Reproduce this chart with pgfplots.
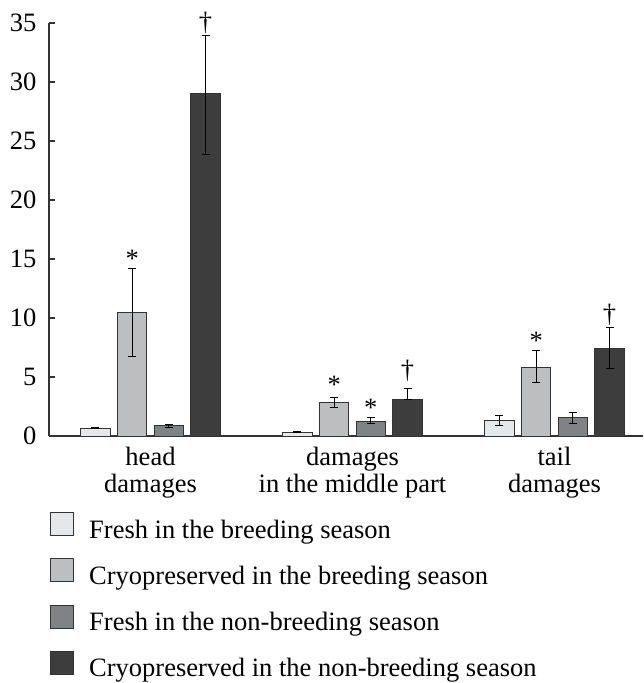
\documentclass[border=0pt]{standalone}
\usepackage{pgfplots}
\usepackage{pgfplotstable}
\pgfplotsset{compat=1.18}
\usepackage{fontspec}
\setmainfont{Liberation Serif}
\definecolor{cA}{HTML}{E6E7E8}
\definecolor{cB}{HTML}{BCBEC0}
\definecolor{cC}{HTML}{808285}
\definecolor{cD}{HTML}{3D3D3D}
\definecolor{edge}{HTML}{333333}
\pgfplotstableread{
x y ep em
0 0.65 0.05 0.05
1 0.30 0.04 0.04
2 1.33 0.39 0.40
}\dataA
\pgfplotstableread{
x y ep em
0 10.45 3.75 3.70
1 2.85 0.42 0.42
2 5.82 1.43 1.32
}\dataB
\pgfplotstableread{
x y ep em
0 0.85 0.12 0.12
1 1.27 0.31 0.25
2 1.55 0.43 0.48
}\dataC
\pgfplotstableread{
x y ep em
0 29.00 4.90 5.15
1 3.13 0.87 0.00
2 7.42 1.75 1.69
}\dataD
\newcommand{\fs}{\fontsize{26.5}{27}\selectfont}
\begin{document}
\begin{tikzpicture}
\begin{axis}[
  name=ax,
  scale only axis,
  clip=false,
  width=594pt, height=413pt,
  xmin=-0.5025, xmax=2.438,
  ymin=0, ymax=35,
  axis lines=left,
  axis line style={-, draw=edge, line width=1.1pt},
  ybar, bar width=0.146,
  xtick={0,1,2},
  xticklabels={{head\\damages},{damages\\in the middle part},{tail\\damages}},
  xticklabel style={align=center, font=\fs, yshift=-8pt},
  major x tick style={draw=none},
  ytick={0,5,...,35},
  yticklabel style={font=\fs, xshift=-9pt},
  /pgf/number format/assume math mode=true,
  tick align=inside,
  major tick length=6pt,
  major y tick style={draw=edge, line width=1.1pt},
  legend style={at={(axis description cs:0,0)}, anchor=north west,
    xshift=1pt, yshift=-76pt, draw=none, fill=none, inner sep=0pt,
    row sep=18.8pt, column sep=15pt, font=\fs,
    nodes={inner sep=0pt}},
  legend cell align=left,
  legend image code/.code={\draw[#1, draw=edge, line width=1pt] (0pt,-6pt) rectangle (23pt,17pt);},
  error bars/y dir=both, error bars/y explicit,
  error bars/error bar style={line width=1pt, black},
  error bars/error mark options={rotate=90, mark size=4pt, line width=1pt, black},
]
\addplot[fill=cA, draw=edge, line width=1pt, bar shift=-0.2725] table[x=x, y=y, y error plus=ep, y error minus=em]{\dataA};
\addplot[fill=cB, draw=edge, line width=1pt, bar shift=-0.0908] table[x=x, y=y, y error plus=ep, y error minus=em]{\dataB};
\addplot[fill=cC, draw=edge, line width=1pt, bar shift=0.0908] table[x=x, y=y, y error plus=ep, y error minus=em]{\dataC};
\addplot[fill=cD, draw=edge, line width=1pt, bar shift=0.2725] table[x=x, y=y, y error plus=ep, y error minus=em]{\dataD};
\legend{Fresh in the breeding season, Cryopreserved in the breeding season, Fresh in the non-breeding season, Cryopreserved in the non-breeding season}
\node[font=\fs] at (axis cs:-0.0908,15.0) {*};
\node[font=\fs] at (axis cs:0.2725,35.0) {\dag};
\node[font=\fs] at (axis cs:0.9092,4.3) {*};
\node[font=\fs] at (axis cs:1.0908,2.4) {*};
\node[font=\fs] at (axis cs:1.2725,5.5) {\dag};
\node[font=\fs] at (axis cs:1.9092,8.1) {*};
\node[font=\fs] at (axis cs:2.2725,10.3) {\dag};
\end{axis}
\pgfresetboundingbox
\path (ax.south west) ++(-49pt,-247pt) rectangle ++(643pt,683pt);
\end{tikzpicture}
\end{document}
